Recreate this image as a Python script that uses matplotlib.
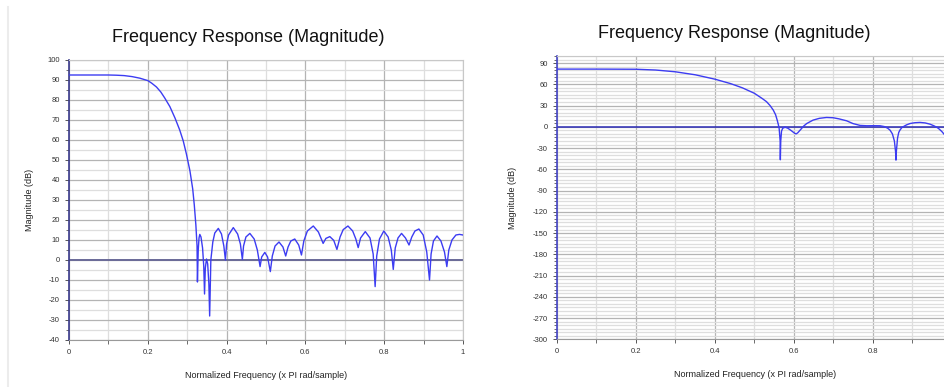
import numpy as np
import matplotlib
matplotlib.use("Agg")
from matplotlib import pyplot as plt
from matplotlib.ticker import MultipleLocator
from matplotlib.lines import Line2D

# left chart: magnitude response (dB)
freq_left = [0.0, 0.10, 0.12, 0.14, 0.16, 0.18, 0.20, 0.21, 0.222, 0.233, 0.243,
             0.256, 0.269, 0.281, 0.290, 0.298, 0.307, 0.314, 0.318, 0.322, 0.325, 0.326,
             0.328, 0.330, 0.332, 0.335, 0.339, 0.342, 0.344,
             0.346, 0.349, 0.352, 0.355, 0.357,
             0.360, 0.365, 0.370, 0.379, 0.387, 0.393, 0.397,
             0.400, 0.405, 0.417, 0.428, 0.435, 0.440,
             0.443, 0.449, 0.459, 0.470, 0.478, 0.485,
             0.489, 0.497, 0.504, 0.511,
             0.516, 0.523, 0.533, 0.543, 0.550,
             0.556, 0.563, 0.573, 0.583, 0.590,
             0.596, 0.605, 0.620, 0.633, 0.645,
             0.652, 0.662, 0.672, 0.680,
             0.688, 0.696, 0.708, 0.720, 0.728, 0.734,
             0.740, 0.752, 0.764, 0.772, 0.777,
             0.781, 0.788, 0.799, 0.810, 0.818, 0.823,
             0.828, 0.835, 0.844, 0.854, 0.863,
             0.870, 0.878, 0.888, 0.899, 0.908, 0.915,
             0.919, 0.925, 0.934, 0.944, 0.953, 0.959,
             0.964, 0.972, 0.982, 0.991, 1.0]
mag_left = [92.5, 92.5, 92.4, 92.2, 91.7, 90.9, 89.7, 88.4, 86.5, 84.0, 81.0,
            76.7, 71.0, 65.0, 59.5, 53.0, 44.5, 35.5, 27.5, 17.5, 7.0, -11.0,
            5.0, 11.0, 12.8, 11.5, 6.0, -3.0, -17.0,
            -4.0, 0.5, -2.0, -12.0, -28.0,
            0.0, 9.0, 13.5, 15.8, 13.0, 7.0, 0.0,
            8.0, 12.5, 16.2, 13.0, 8.0, 0.3,
            7.0, 11.5, 13.3, 10.5, 5.0, -3.3,
            1.5, 3.8, 1.5, -5.8,
            2.0, 7.0, 9.0, 6.5, 2.0,
            6.5, 9.5, 10.5, 7.5, 2.5,
            9.5, 14.5, 17.0, 14.0, 8.3,
            10.8, 11.7, 9.8, 5.3,
            11.5, 15.2, 17.0, 14.5, 10.5, 6.2,
            11.0, 14.2, 11.0, 3.0, -13.3,
            2.0, 10.5, 14.5, 11.5, 5.0, -4.7,
            6.0, 11.0, 13.3, 11.0, 7.5,
            11.5, 14.5, 15.5, 12.5, 4.0, -10.0,
            3.0, 9.5, 12.0, 9.5, 4.0, -3.3,
            5.0, 10.0, 12.5, 12.8, 12.5]

# right chart
freq_right = [0.0, 0.10, 0.20, 0.25, 0.30, 0.35, 0.40, 0.44, 0.47, 0.50, 0.52,
              0.531, 0.540, 0.548, 0.554, 0.558, 0.561, 0.563, 0.5655, 0.566, 0.567,
              0.569, 0.572, 0.578, 0.585, 0.594, 0.602, 0.606, 0.610, 0.618, 0.625,
              0.633, 0.649, 0.665, 0.683, 0.700, 0.715, 0.734, 0.750, 0.768, 0.785,
              0.802, 0.819, 0.830, 0.838, 0.844, 0.850, 0.855, 0.858, 0.859, 0.860,
              0.863, 0.866, 0.869, 0.874, 0.880, 0.886, 0.895, 0.907, 0.920, 0.933,
              0.945, 0.955, 0.962, 0.967, 0.975, 0.983, 0.990, 1.0]
mag_right = [81.5, 81.5, 81.3, 80.2, 77.7, 73.5, 67.3, 61.0, 55.0, 47.4, 40.0,
             35.5, 30.0, 23.7, 17.0, 9.5, 3.0, -2.4, -20.0, -46.5, -20.0,
             -6.0, -2.0, -0.5, -2.0, -5.5, -9.0, -10.0, -8.5, -3.5, 1.0,
             4.7, 9.5, 12.0, 13.2, 12.8, 11.2, 8.5, 4.6, 2.0, 1.5,
             1.6, 1.5, 0.3, -2.0, -4.7, -10.0, -20.0, -35.0, -47.0, -35.0,
             -16.0, -8.0, -4.7, -1.0, 1.0, 2.8, 4.7, 5.8, 6.2, 5.5,
             3.8, 1.5, -0.5, -2.4, -6.5, -11.7, -17.0, -24.0]

title_text = "Frequency Response (Magnitude)"
xlabel_text = "Normalized Frequency (x PI rad/sample)"
ylabel_text = "Magnitude (dB)"
left_xticks = [0, 0.2, 0.4, 0.6, 0.8, 1]
left_xticklabels = ["0", "0.2", "0.4", "0.6", "0.8", "1"]
right_xticks = [0, 0.2, 0.4, 0.6, 0.8]
right_xticklabels = ["0", "0.2", "0.4", "0.6", "0.8"]

plt.rcParams['font.family'] = ['Liberation Sans', 'DejaVu Sans']
plt.rcParams['axes.unicode_minus'] = False

curve_color = '#3c3cf2'
fig = plt.figure(figsize=(9.45, 3.87), dpi=100)
fig.patch.set_facecolor('white')

# faint widget border on the far left
fig.add_artist(Line2D([8.5/945, 8.5/945], [0, 1 - 7/387], color='#ececec', lw=1.5,
                      transform=fig.transFigure))


def style_axes(ax, ymajor, yminor, spine_color):
    ax.xaxis.set_major_locator(MultipleLocator(0.2))
    ax.xaxis.set_minor_locator(MultipleLocator(0.1))
    ax.yaxis.set_major_locator(MultipleLocator(ymajor))
    ax.yaxis.set_minor_locator(MultipleLocator(yminor))
    ax.grid(which='major', color='#b4b4b4', lw=0.9)
    ax.grid(which='minor', color='#dedede', lw=0.9)
    ax.set_axisbelow(True)
    for s in ['top', 'right']:
        ax.spines[s].set_color('#c8c8c8')
        ax.spines[s].set_linewidth(0.8)
    ax.spines['bottom'].set_color('#9a9a9a')
    ax.spines['bottom'].set_linewidth(0.8)
    ax.spines['left'].set_color(spine_color)
    ax.spines['left'].set_linewidth(1.2)
    ax.tick_params(which='major', direction='out', length=3, width=0.7, color='#555555',
                   labelsize=5.5, labelcolor='#333333', pad=3.5)
    ax.tick_params(which='minor', direction='out', length=2, width=0.6, color='#555555')
    ax.tick_params(axis='x', which='minor', length=3)


# ---- left chart
ax1 = fig.add_axes([69/945, 1 - 340/387, 394/945, 280/387])
style_axes(ax1, 10, 5, '#3a3a8c')
ax1.set_xlim(0, 1)
ax1.set_ylim(-40, 100)
ax1.set_xticks(left_xticks)
ax1.set_xticklabels(left_xticklabels)
ax1.axhline(0, color='#6a6a98', lw=1.4, zorder=2)
ax1.plot(freq_left, mag_left, color=curve_color, lw=1.0, zorder=3)
ax1.set_xlabel(xlabel_text, fontsize=6.5, color='#222222')
ax1.set_ylabel(ylabel_text, fontsize=6.5, color='#222222')
ax1.xaxis.set_label_coords(0.5, -0.125)
ax1.xaxis.label.set_va('center')
ax1.yaxis.set_label_coords(-0.099, 0.5)
ax1.yaxis.label.set_va('center')

# ---- right chart (runs past the right edge of the picture)
ax2 = fig.add_axes([557/945, 1 - 339.3/387, 394.6/945, 283.3/387])
style_axes(ax2, 30, 5, '#4646c8')
ax2.set_xlim(0, 1)
ax2.set_ylim(-300, 100)
ax2.set_xticks(right_xticks)
ax2.set_xticklabels(right_xticklabels)
ax2.xaxis.set_minor_locator(MultipleLocator(0.1))
ax2.axhline(0, color='#2a2ab4', lw=1.1, zorder=2)
ax2.plot(freq_right, mag_right, color=curve_color, lw=1.0, zorder=3)
ax2.set_xlabel(xlabel_text, fontsize=6.5, color='#222222')
ax2.set_ylabel(ylabel_text, fontsize=6.5, color='#222222')
ax2.xaxis.set_label_coords(0.502, -0.126)
ax2.xaxis.label.set_va('center')
ax2.yaxis.set_label_coords(-0.114, 0.5)
ax2.yaxis.label.set_va('center')

fig.text(248/945, 1 - 37/387, title_text, fontsize=13, ha='center', va='center', color='#111111')
fig.text(734.5/945, 1 - 33/387, title_text, fontsize=13, ha='center', va='center', color='#111111')

fig.savefig('out.png', dpi=100)
